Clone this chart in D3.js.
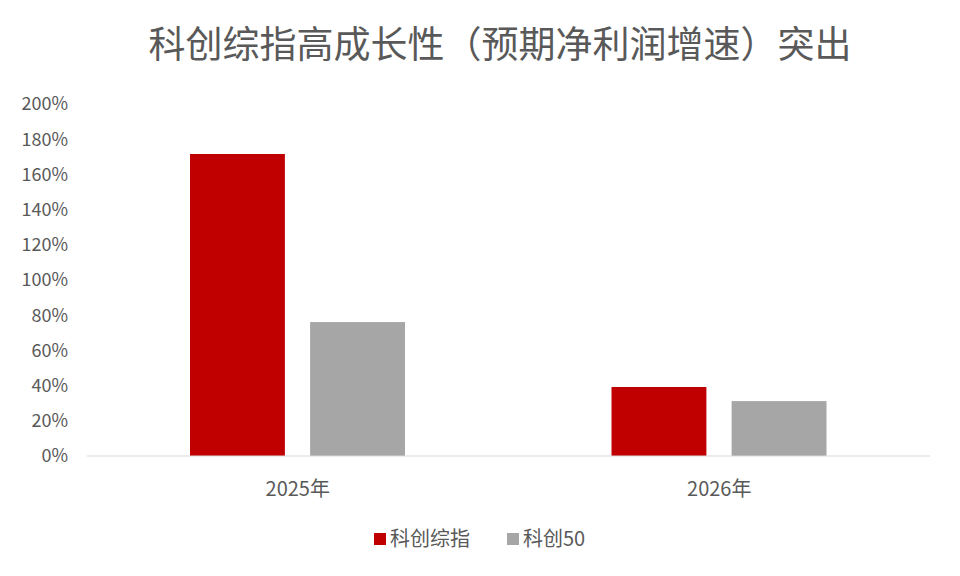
<!DOCTYPE html>
<html><head><meta charset="utf-8">
<script src="https://cdn.jsdelivr.net/npm/d3@7"></script>
<style>body{margin:0;background:#fff}text{font-family:"Noto Sans CJK SC","Noto Sans",sans-serif}</style>
</head><body>
<script>
const categories = ["2025年", "2026年"];
const seriesNames = ["科创综指", "科创50"];
const kcIndex = [171.6, 39.2]; // 科创综指
const kc50 = [76.1, 31.2];     // 科创50
const yTicks = [0, 20, 40, 60, 80, 100, 120, 140, 160, 180, 200];
const colors = ["#c00000", "#a6a6a6"];

const width = 960, height = 576;
const svg = d3.select("body").append("svg").attr("width", width).attr("height", height);
const m = {left: 87, right: 30, top: 104, bottom: 120};

const x = d3.scaleBand().domain(categories).range([m.left, width - m.right]);
const xs = d3.scaleBand().domain(seriesNames).range([103, 318]).paddingInner(0.21);
const y = d3.scaleLinear().domain([0, 200]).range([height - m.bottom, m.top]);

svg.append("text").attr("x", width / 2 + 20).attr("y", 58).attr("text-anchor", "middle")
  .attr("font-size", 37).attr("fill", "#595959").text("科创综指高成长性（预期净利润增速）突出");

svg.append("g").selectAll("text").data(yTicks).join("text")
  .attr("x", 68).attr("y", d => y(d)).attr("dy", "0.35em").attr("text-anchor", "end")
  .attr("font-size", 18).attr("fill", "#595959").text(d => d + "%");

const series = [kcIndex, kc50];
series.forEach((vals, i) => {
  svg.append("g").selectAll("rect").data(vals).join("rect")
    .attr("x", (d, j) => x(categories[j]) + xs(seriesNames[i]))
    .attr("width", xs.bandwidth())
    .attr("y", d => y(d)).attr("height", d => y(0) - y(d))
    .attr("fill", colors[i]);
});

svg.append("line").attr("x1", m.left).attr("x2", width - m.right)
  .attr("y1", y(0)).attr("y2", y(0)).attr("stroke", "#d9d9d9");

svg.append("g").selectAll("text").data(categories).join("text")
  .attr("x", d => x(d) + x.bandwidth() / 2).attr("y", 496).attr("text-anchor", "middle")
  .attr("font-size", 20).attr("fill", "#595959").text(d => d);

const leg = svg.append("g");
const legX = [374, 507];
seriesNames.forEach((s, i) => {
  leg.append("rect").attr("x", legX[i]).attr("y", 533).attr("width", 12).attr("height", 12).attr("fill", colors[i]);
  leg.append("text").attr("x", legX[i] + 16).attr("y", 539).attr("dy", "0.35em")
    .attr("font-size", 20).attr("fill", "#595959").text(s);
});
</script>
</body></html>
